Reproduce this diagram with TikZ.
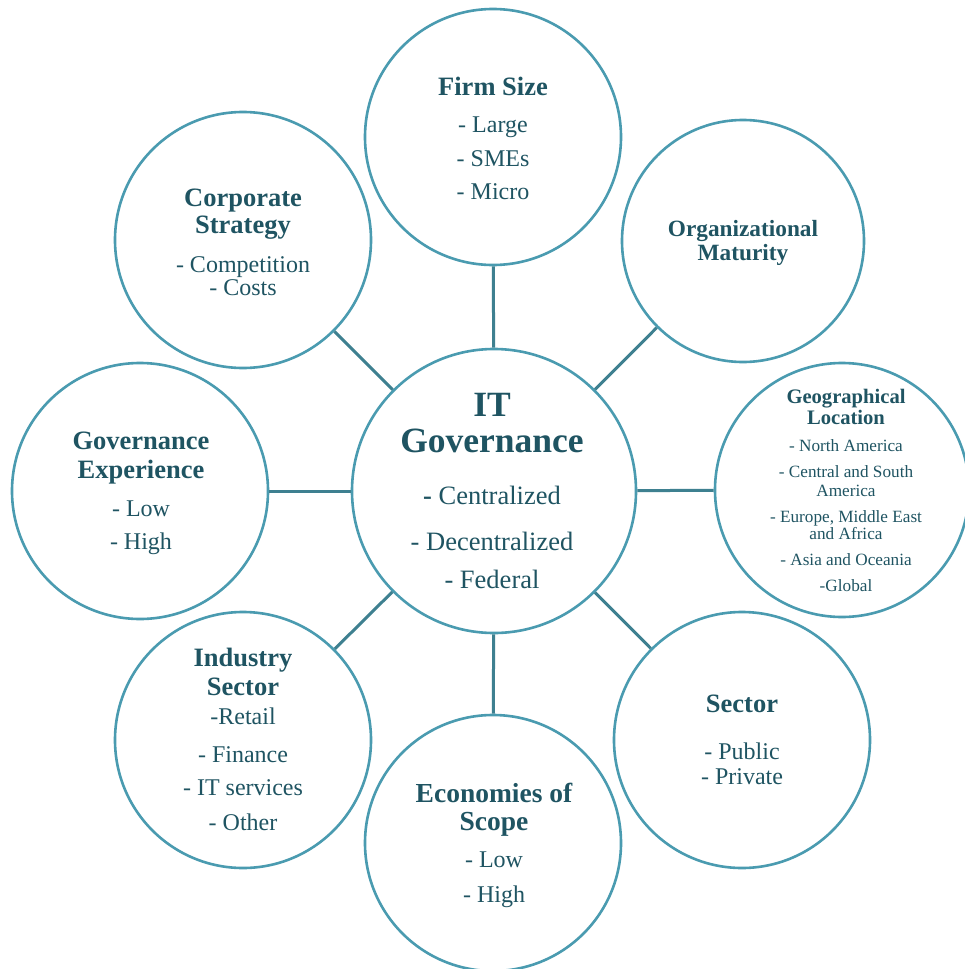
\documentclass[tikz,border=0pt]{standalone}
\usepackage{fontspec}
\setmainfont{Liberation Serif}
\definecolor{ring}{RGB}{74,155,176}
\definecolor{link}{RGB}{62,128,144}
\definecolor{ink}{RGB}{31,84,98}
\begin{document}
\begin{tikzpicture}[x=1pt,y=-1pt,
  circ/.style={circle,draw=ring,line width=2.6pt,inner sep=0pt,fill=white},
  conn/.style={draw=link,line width=3pt},
  ttl/.style={anchor=base,text=ink,inner sep=0pt,font=\fontsize{26.5}{30}\selectfont\bfseries},
  itm/.style={anchor=base,text=ink,inner sep=0pt,font=\fontsize{24}{28}\selectfont},
  bigttl/.style={anchor=base,text=ink,inner sep=0pt,font=\fontsize{35.5}{40}\selectfont\bfseries},
  bigitm/.style={anchor=base,text=ink,inner sep=0pt,font=\fontsize{26.5}{30}\selectfont},
  smttl/.style={anchor=base,text=ink,inner sep=0pt,font=\fontsize{20.6}{24}\selectfont\bfseries},
  smitm/.style={anchor=base,text=ink,inner sep=0pt,font=\fontsize{17.2}{20}\selectfont},
]
\useasboundingbox (0,0) rectangle (965,969);
\fill[white] (0,0) rectangle (965,969);
% circles
\node[circ,minimum size=284pt] (c) at (494,491) {};
\node[circ,minimum size=256pt] (fs) at (493,137) {};
\node[circ,minimum size=256pt] (cs) at (243,240) {};
\node[circ,minimum size=242pt] (om) at (743,241) {};
\node[circ,minimum size=256pt] (ge) at (140,491) {};
\node[circ,minimum size=254pt] (gl) at (842,490) {};
\node[circ,minimum size=256pt] (is) at (243,740) {};
\node[circ,minimum size=256pt] (se) at (742,740) {};
\node[circ,minimum size=256pt] (es) at (493,843) {};
% connectors
\foreach \n in {fs,cs,om,ge,gl,is,se,es} \draw[conn] (c) -- (\n);
% centre
\node[bigttl] (c1) at (492,416) {IT};
\node[bigttl] (c2) at (492,452) {Governance};
\node[bigitm] (c3) at (492,504) {{\bfseries -} Centralized};
\node[bigitm] (c4) at (492,550) {- Decentralized};
\node[bigitm] (c5) at (492,588) {- Federal};
% firm size
\node[ttl] (fs1) at (493,95) {Firm Size};
\node[itm] (fs2) at (493,132) {- Large};
\node[itm] (fs3) at (493,166) {- SMEs};
\node[itm] (fs4) at (493,199) {- Micro};
% corporate strategy
\node[ttl] (cs1) at (243,206) {Corporate};
\node[ttl] (cs2) at (243,233) {Strategy};
\node[itm] (cs3) at (243,272) {- Competition};
\node[itm] (cs4) at (243,295) {- Costs};
% organizational maturity
\node[ttl,font=\fontsize{23.3}{27}\selectfont\bfseries] (om1) at (743,236) {Organizational};
\node[ttl,font=\fontsize{23.3}{27}\selectfont\bfseries] (om2) at (743,260) {Maturity};
% governance experience
\node[ttl] (ge1) at (141,449) {Governance};
\node[ttl] (ge2) at (141,478) {Experience};
\node[itm] (ge3) at (141,516) {- Low};
\node[itm] (ge4) at (141,549) {- High};
% geographical location
\node[smttl] (gl1) at (846,403) {Geographical};
\node[smttl] (gl2) at (846,424) {Location};
\node[smitm] (gl3) at (846,451) {- North America};
\node[smitm] (gl4) at (846,477) {- Central and South};
\node[smitm] (gl5) at (846,496) {America};
\node[smitm] (gl6) at (846,522) {- Europe, Middle East};
\node[smitm] (gl7) at (846,539) {and Africa};
\node[smitm] (gl8) at (846,565) {- Asia and Oceania};
\node[smitm] (gl9) at (846,591) {-Global};
% industry sector
\node[ttl] (is1) at (243,666) {Industry};
\node[ttl] (is2) at (243,695) {Sector};
\node[itm] (is3) at (243,724) {-Retail};
\node[itm] (is4) at (243,762) {- Finance};
\node[itm] (is5) at (243,795) {- IT services};
\node[itm] (is6) at (243,830) {- Other};
% sector
\node[ttl] (se1) at (742,712) {Sector};
\node[itm] (se2) at (742,759) {- Public};
\node[itm] (se3) at (742,784) {- Private};
% economies of scope
\node[ttl,font=\fontsize{27.5}{31}\selectfont\bfseries] (es1) at (494,802) {Economies of};
\node[ttl,font=\fontsize{27.5}{31}\selectfont\bfseries] (es2) at (494,830) {Scope};
\node[itm] (es3) at (494,867) {- Low};
\node[itm] (es4) at (494,902) {- High};
\end{tikzpicture}
\end{document}
